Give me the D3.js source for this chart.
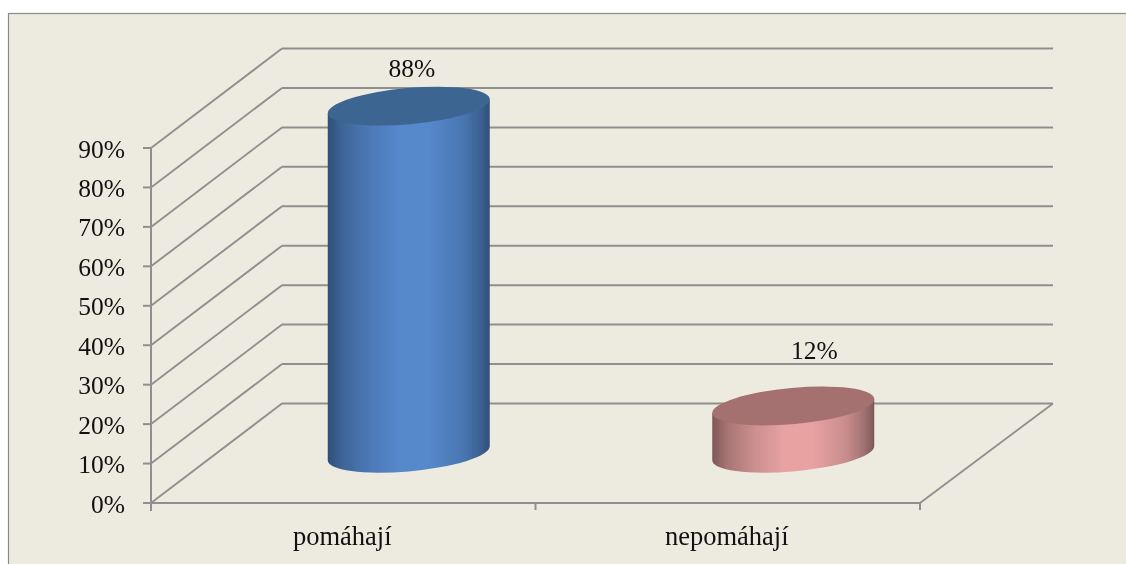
<!DOCTYPE html>
<html><head><meta charset="utf-8">
<script src="https://cdn.jsdelivr.net/npm/d3@7"></script>
<style>html,body{margin:0;padding:0;background:#fff;overflow:hidden}svg{display:block}text{font-family:"Liberation Serif",serif;fill:#111}</style>
</head><body><svg id="c" width="1126" height="564"></svg>
<script>
const categories=["pomáhají","nepomáhají"];
const values=[88,12];
const valueLabels=["88%","12%"];
const yTicks=[0,10,20,30,40,50,60,70,80,90];
const palettes=[{edge:"#2f4f78",mid:"#5688cc",top:"#3e6592"},{edge:"#7d5757",mid:"#e8a2a2",top:"#a56f6f"}];
const labelNudge=[{dx:3,y:77},{dx:21,y:359}];

const svg=d3.select("#c");
const L=151,R=920,T=148,B=503,DX=131,DY=-99.5,RX=133;
const x=d3.scaleBand().domain(categories).range([L,R]);
const y=d3.scaleLinear().domain([0,90]).range([B,T]);
const lineC="#8f8f8f";

svg.append("rect").attr("x",8.5).attr("y",13.5).attr("width",1130).attr("height",570).attr("fill","#edebe0").attr("stroke","#8a8a8a").attr("stroke-width",1.2);

const defs=svg.append("defs");
palettes.forEach((p,i)=>{
  const g=defs.append("linearGradient").attr("id","g"+i).attr("x1",0).attr("x2",1).attr("y1",0).attr("y2",0);
  const mix=d3.interpolateRgb(p.edge,p.mid);
  [[0,p.edge],[.09,mix(.38)],[.27,mix(.76)],[.45,p.mid],[.62,p.mid],[.83,mix(.7)],[.94,mix(.33)],[1,p.edge]]
    .forEach(s=>g.append("stop").attr("offset",s[0]).attr("stop-color",s[1]));
});
const soft=defs.append("filter").attr("id","soft").attr("filterUnits","userSpaceOnUse").attr("x",0).attr("y",0).attr("width",1126).attr("height",564);
soft.append("feGaussianBlur").attr("stdDeviation",.35);

const grid=svg.append("g").attr("fill","none").attr("stroke",lineC).attr("filter","url(#soft)");
yTicks.forEach(t=>{
  const yy=y(t);
  grid.append("path").attr("stroke-width",1.9).attr("d",d3.line()([[L,yy],[L+DX,yy+DY]]));
  grid.append("path").attr("stroke-width",2).attr("d",d3.line()([[L+DX,yy+DY],[R+RX,yy+DY]]));
  grid.append("path").attr("stroke-width",2).attr("d",d3.line()([[L-8,yy],[L,yy]]));
});
grid.append("path").attr("stroke-width",1.9).attr("d",d3.line()([[R,B],[R+RX,B+DY]]));
grid.append("path").attr("stroke-width",2).attr("d",d3.line()([[L,T],[L,B+8]]));
grid.append("path").attr("stroke-width",2).attr("d",d3.line()([[L,B],[R,B]]));
[L,(L+R)/2,R].forEach(v=>grid.append("path").attr("stroke-width",2).attr("d",d3.line()([[v,B],[v,B+7]])));

const bars=svg.append("g").attr("filter","url(#soft)");
const hw=81,shear=7,a=81.3,b=18.1,rot=-5.2;
values.forEach((v,i)=>{
  const cx=x(categories[i])+x.bandwidth()/2+DX/2;
  const base=B+DY/2, top=base-(B-y(v));
  const lx=cx-hw,rx=cx+hw;
  bars.append("path").attr("fill",`url(#g${i})`)
    .attr("d",`M${lx},${top+shear}L${lx},${base+shear}A${a},${b} ${rot} 0 0 ${rx},${base-shear}L${rx},${top-shear}Z`);
  bars.append("ellipse").attr("rx",a).attr("ry",b).attr("fill",palettes[i].top)
    .attr("transform",`translate(${cx},${top}) rotate(${rot})`);
  svg.append("text").attr("x",cx+labelNudge[i].dx).attr("y",labelNudge[i].y).attr("text-anchor","middle").attr("font-size",25.5).text(valueLabels[i]);
  svg.append("text").attr("x",x(categories[i])+x.bandwidth()/2-1).attr("y",545).attr("text-anchor","middle").attr("font-size",26.5).text(categories[i]);
});
yTicks.forEach(t=>{
  svg.append("text").attr("x",125).attr("y",y(t)+9.5).attr("text-anchor","end").attr("font-size",25.5).text(t+"%");
});
</script></body></html>
